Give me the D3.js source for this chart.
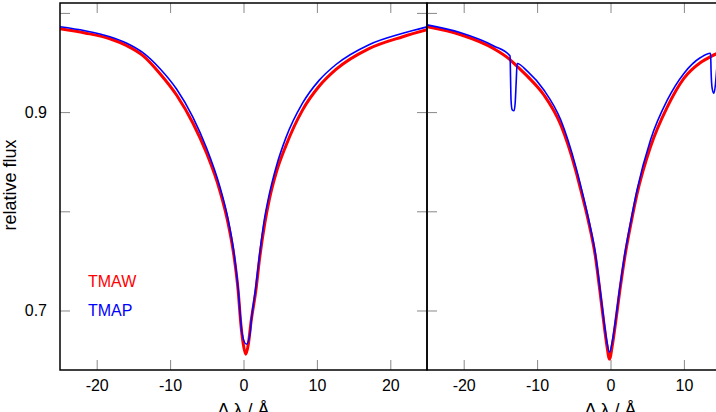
<!DOCTYPE html>
<html>
<head>
<meta charset="utf-8">
<script src="https://cdn.jsdelivr.net/npm/d3@7"></script>
<style>
  body { margin: 0; background: #fff; }
  svg { display: block; font-family: "Liberation Sans", Arial, sans-serif; }
  .tick line { stroke: #888; stroke-width: 1; }
  .tick text { font-size: 16px; fill: #000; }
</style>
</head>
<body>
<div id="chart"></div>
<script>
// wavelength offset (Å) and relative flux
const tmawLeft = [[-25, 0.984], [-21.6, 0.9798], [-18.2, 0.974], [-15.9, 0.967], [-13.7, 0.957],
  [-11.4, 0.939], [-9.1, 0.917], [-6.9, 0.889], [-5.05, 0.859], [-3.23, 0.821], [-2.1, 0.788],
  [-1.28, 0.754], [-0.73, 0.720], [-0.37, 0.687], [-0.05, 0.667], [0.31, 0.656], [0.68, 0.667],
  [1.0, 0.687], [1.68, 0.720], [2.22, 0.754], [2.9, 0.788], [3.49, 0.811], [4.5, 0.840],
  [5.77, 0.866], [8.04, 0.902], [10.3, 0.926], [12.6, 0.943], [17.1, 0.964], [21.7, 0.976], [25, 0.983]];

const tmapLeft = [[-25, 0.986], [-21.6, 0.982], [-18.2, 0.976], [-15.9, 0.9695], [-13.7, 0.960],
  [-11.4, 0.944], [-9.1, 0.923], [-6.9, 0.895], [-5.05, 0.864], [-3.23, 0.825], [-2.1, 0.792],
  [-1.28, 0.757], [-0.73, 0.722], [-0.37, 0.689], [-0.2, 0.677], [0.4, 0.666], [0.9, 0.677],
  [1.05, 0.689], [1.65, 0.722], [2.2, 0.757], [2.85, 0.792], [3.45, 0.815], [4.5, 0.846],
  [5.77, 0.874], [8.04, 0.909], [10.3, 0.932], [12.6, 0.948], [17.1, 0.968], [21.7, 0.9795], [25, 0.986]];

const tmawRight = [[-25, 0.986], [-20.4, 0.978], [-15.9, 0.964], [-13.7, 0.953], [-12.7, 0.946],
  [-11.3, 0.936], [-9.05, 0.917], [-6.77, 0.887], [-4.73, 0.841], [-4.1, 0.823], [-2.95, 0.788],
  [-2.05, 0.754], [-1.45, 0.720], [-0.9, 0.687], [-0.5, 0.665], [-0.14, 0.651], [0.25, 0.665],
  [0.68, 0.687], [1.27, 0.720], [1.95, 0.754], [2.82, 0.789], [3.6, 0.817], [5.45, 0.865],
  [7.73, 0.905], [10.0, 0.934], [12.27, 0.950], [13.64, 0.956], [14.8, 0.960]];

const tmapRight = [[-25, 0.988], [-20.4, 0.980], [-15.9, 0.9667], [-13.68, 0.9566], [-13.62, 0.935],
  [-13.55, 0.912], [-13.4, 0.9025], [-13.14, 0.9013], [-12.98, 0.91], [-12.85, 0.93], [-12.72, 0.949],
  [-11.3, 0.941], [-9.05, 0.922], [-6.77, 0.892], [-4.73, 0.845], [-4.1, 0.827], [-2.95, 0.791],
  [-2.05, 0.757], [-1.45, 0.723], [-0.9, 0.690], [-0.5, 0.669], [-0.14, 0.658], [0.25, 0.669],
  [0.68, 0.690], [1.27, 0.723], [1.95, 0.757], [2.82, 0.792], [3.6, 0.821], [5.45, 0.872],
  [7.73, 0.912], [10.0, 0.939], [12.27, 0.955], [13.64, 0.9593], [13.7, 0.942], [13.85, 0.924],
  [14.09, 0.919], [14.3, 0.928], [14.5, 0.946], [14.7, 0.961]];

const xTicks = [-20, -10, 0, 10, 20];
const yTicks = [0.7, 0.8, 0.9, 1.0];
const yLabelled = [0.7, 0.9];
const series = [
  { name: "TMAW", color: "#ff0000", width: 3 },
  { name: "TMAP", color: "#0000ff", width: 1.6 }
];

const W = 716, H = 412;
const plotTop = 3, plotBottom = 370;
const panels = [
  { x0: 60, x1: 427, data: [tmawLeft, tmapLeft] },
  { x0: 427, x1: 794, data: [tmawRight, tmapRight] }
];

const svg = d3.select("#chart").append("svg")
    .attr("width", W)
    .attr("height", H);

const y = d3.scaleLinear().domain([0.64, 1.01]).range([plotBottom, plotTop]);

panels.forEach((p, i) => {
  const x = d3.scaleLinear().domain([-25, 25]).range([p.x0, p.x1]);
  // the right panel runs past the page edge; only ticks that show are labelled
  const ticksShown = xTicks.filter(t => x(t) < W);

  svg.append("clipPath").attr("id", "clip" + i)
    .append("rect")
      .attr("x", p.x0).attr("y", plotTop)
      .attr("width", p.x1 - p.x0).attr("height", plotBottom - plotTop);

  const g = svg.append("g");

  g.append("g")
      .attr("transform", `translate(0,${plotBottom})`)
      .call(d3.axisBottom(x).tickValues(ticksShown).tickSize(-10).tickPadding(10)
        .tickFormat(d => String(d)))
      .call(a => a.select(".domain").remove());

  g.append("g")
      .attr("transform", `translate(0,${plotTop})`)
      .call(d3.axisTop(x).tickValues(ticksShown).tickSize(-10).tickFormat(""))
      .call(a => a.select(".domain").remove());

  g.append("g")
      .attr("transform", `translate(${p.x0},0)`)
      .call(d3.axisLeft(y).tickValues(yTicks).tickSize(-10).tickPadding(13)
        .tickFormat(d => (i === 0 && yLabelled.includes(d)) ? d3.format(".1f")(d) : ""))
      .call(a => a.select(".domain").remove());

  g.append("g")
      .attr("transform", `translate(${p.x1},0)`)
      .call(d3.axisRight(y).tickValues(yTicks).tickSize(-10).tickFormat(""))
      .call(a => a.select(".domain").remove());

  const line = d3.line()
      .x(d => x(d[0]))
      .y(d => y(d[1]))
      .curve(d3.curveMonotoneX);

  p.data.forEach((d, k) => {
    g.append("path")
        .datum(d)
        .attr("clip-path", `url(#clip${i})`)
        .attr("fill", "none")
        .attr("stroke", series[k].color)
        .attr("stroke-width", series[k].width)
        .attr("stroke-linejoin", "round")
        .attr("d", line);
  });

  g.append("rect")
      .attr("x", p.x0).attr("y", plotTop)
      .attr("width", p.x1 - p.x0).attr("height", plotBottom - plotTop)
      .attr("fill", "none")
      .attr("stroke", "#000")
      .attr("stroke-width", 1.5);

  svg.append("text")
      .attr("x", x(0))
      .attr("y", 416)
      .attr("text-anchor", "middle")
      .style("font-size", "18px")
      .text("Δ λ / Å");
});

svg.append("text")
    .attr("transform", "translate(16,185) rotate(-90)")
    .attr("text-anchor", "middle")
    .style("font-size", "18px")
    .text("relative flux");

series.forEach((s, k) => {
  svg.append("text")
      .attr("x", 88)
      .attr("y", 287 + k * 29)
      .attr("fill", s.color)
      .style("font-size", "16px")
      .text(s.name);
});
</script>
</body>
</html>
